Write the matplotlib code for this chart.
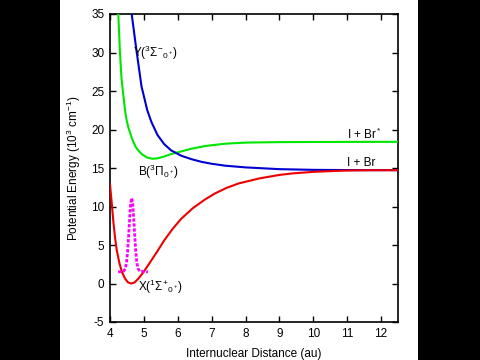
import matplotlib
matplotlib.use("Agg")
import matplotlib.pyplot as plt
from matplotlib.patches import Rectangle

# X state (red)
x_X = [4.00, 4.05, 4.10, 4.15, 4.20, 4.28, 4.36, 4.45, 4.53, 4.62, 4.72, 4.83, 4.95, 5.10,
       5.25, 5.40, 5.60, 5.85, 6.10, 6.45, 6.80, 7.10, 7.43, 7.80, 8.41, 9.00, 9.39, 10.0,
       10.9, 11.5, 12.5]
y_X = [12.9, 10.5, 8.0, 5.9, 4.3, 2.6, 1.4, 0.6, 0.15, 0.0, 0.12, 0.6, 1.25, 2.2,
       3.2, 4.2, 5.6, 7.1, 8.4, 9.8, 10.9, 11.7, 12.4, 13.0, 13.65, 14.1, 14.3, 14.5,
       14.66, 14.7, 14.72]

# B state (green)
x_B = [4.245, 4.29, 4.34, 4.39, 4.45, 4.49, 4.54, 4.65, 4.75, 4.83, 4.95, 5.10, 5.25,
       5.40, 5.60, 5.80, 6.10, 6.40, 6.80, 7.38, 8.00, 9.00, 10.0, 12.5]
y_B = [35.0, 30.3, 26.6, 24.6, 22.3, 21.2, 20.3, 18.8, 17.8, 17.3, 16.75, 16.35, 16.2,
       16.25, 16.5, 16.8, 17.15, 17.5, 17.85, 18.15, 18.3, 18.36, 18.38, 18.4]

# Y state (blue)
x_Y = [4.64, 4.78, 4.93, 5.10, 5.22, 5.40, 5.60, 5.80, 6.10, 6.40, 6.70, 7.00, 7.40,
       8.00, 9.00, 10.0, 11.0, 12.5]
y_Y = [35.0, 30.3, 25.6, 22.5, 21.0, 19.3, 18.1, 17.3, 16.6, 16.15, 15.8, 15.55, 15.3,
       15.08, 14.85, 14.76, 14.73, 14.72]

# vibrational wavefunction (magenta)
x_psi = [4.24, 4.40, 4.45, 4.49, 4.52, 4.55, 4.58, 4.61, 4.64, 4.67, 4.70, 4.73, 4.76,
         4.79, 4.83, 4.88, 5.12]
y_psi = [1.5, 1.6, 1.9, 2.8, 4.2, 6.2, 8.5, 10.4, 11.1, 10.4, 8.5, 6.2, 4.2,
         2.8, 1.9, 1.6, 1.5]

x_ticks = [4, 5, 6, 7, 8, 9, 10, 11, 12]
y_ticks = [-5, 0, 5, 10, 15, 20, 25, 30, 35]

plt.rcParams['font.family'] = ['Liberation Sans', 'DejaVu Sans']
plt.rcParams['mathtext.fontset'] = 'custom'
plt.rcParams['mathtext.rm'] = 'Liberation Sans'
plt.rcParams['mathtext.it'] = 'Liberation Sans:italic'
plt.rcParams['mathtext.bf'] = 'Liberation Sans:bold'
plt.rcParams['axes.unicode_minus'] = False
fs = 8.5

fig = plt.figure(figsize=(4.8, 3.6), dpi=100, facecolor='black')
bg = Rectangle((60/480, 0), 358/480, 1, transform=fig.transFigure,
               facecolor='white', edgecolor='none', zorder=-10)
fig.patches.append(bg)
ax = fig.add_axes([110/480, 1-322/360, 288/480, 308/360])
ax.set_zorder(1)
ax.set_facecolor('white')

ax.plot(x_B, y_B, color='#00e600', lw=1.5, zorder=3)
ax.plot(x_Y, y_Y, color='#0000d0', lw=1.5, zorder=3)
ax.plot(x_X, y_X, color='#ee0000', lw=1.5, zorder=3)
ax.plot(x_psi, y_psi, color='#ff00ff', lw=2.0, ls=(0, (1.2, 0.6)), zorder=4)

ax.set_xlim(4, 12.5)
ax.set_ylim(-5, 35)
ax.set_xticks(x_ticks)
ax.set_yticks(y_ticks)
ax.tick_params(direction='in', top=True, right=True, length=4, width=1,
               labelsize=fs, pad=4, colors='black')
for s in ax.spines.values():
    s.set_linewidth(1.2)

ax.set_xlabel('Internuclear Distance (au)', fontsize=fs, labelpad=6)
ax.set_ylabel(r'Potential Energy (10$^3$ cm$^{-1}$)', fontsize=fs, labelpad=6)

ax.text(4.68, 29.9, r'Y($^3\Sigma^{-}{}_{0^+}$)', fontsize=fs, ha='left', va='center')
ax.text(4.83, 14.5, r'B($^3\Pi_{0^+}$)', fontsize=fs, ha='left', va='center')
ax.text(4.83, -0.5, r'X($^1\Sigma^{+}{}_{0^+}$)', fontsize=fs, ha='left', va='center')
ax.text(11.0, 19.3, r'I + Br$^*$', fontsize=fs, ha='left', va='center')
ax.text(11.0, 15.6, 'I + Br', fontsize=fs, ha='left', va='center')

fig.savefig('out.png', dpi=100, facecolor=fig.get_facecolor())
